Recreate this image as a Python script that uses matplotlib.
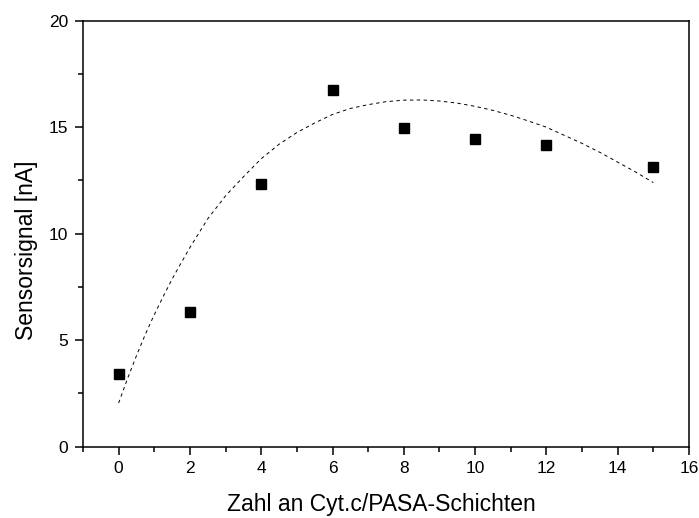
import matplotlib
matplotlib.use("Agg")
import matplotlib.pyplot as plt
from matplotlib.ticker import MultipleLocator

plt.rcParams['font.family'] = ['Liberation Sans', 'DejaVu Sans']

# measured data
layers = [0, 2, 4, 6, 8, 10, 12, 15]
signal = [3.41, 6.31, 12.35, 16.75, 14.95, 14.45, 14.15, 13.13]

# fitted curve
fit_x = [0, 0.25, 0.5, 0.75, 1.0, 1.25, 1.5, 1.75, 2.0, 2.5, 3.0, 3.5, 4.0, 4.5,
         5.0, 5.5, 6.0, 6.5, 7.0, 7.5, 8.0, 8.5, 9.0, 9.5, 10.0, 10.5, 11.0,
         11.5, 12.0, 12.5, 13.0, 13.5, 14.0, 14.5, 15.0]
fit_y = [2.05, 3.2, 4.27, 5.28, 6.2, 7.05, 7.87, 8.62, 9.35, 10.7, 11.78, 12.67,
         13.52, 14.2, 14.75, 15.2, 15.6, 15.88, 16.06, 16.2, 16.27, 16.28, 16.23,
         16.13, 15.98, 15.79, 15.56, 15.29, 15.0, 14.62, 14.24, 13.82, 13.36,
         12.9, 12.4]

fig = plt.figure(figsize=(6.99, 5.18), dpi=100)
ax = fig.add_axes([0.1187, 0.1376, 0.8670, 0.8224])

ax.plot(fit_x, fit_y, linestyle=(0, (3.5, 3.5)), color='black', linewidth=0.7)
ax.plot(layers, signal, linestyle='none', marker='s', markersize=6.5,
        color='black')

ax.set_xlim(-1, 16)
ax.set_ylim(0, 20)
ax.xaxis.set_major_locator(MultipleLocator(2))
ax.xaxis.set_minor_locator(MultipleLocator(1))
ax.yaxis.set_major_locator(MultipleLocator(5))
ax.yaxis.set_minor_locator(MultipleLocator(2.5))

for s in ax.spines.values():
    s.set_linewidth(1.1)
ax.tick_params(which='both', direction='out', top=False, right=False,
               width=1.1, labelsize=12.5)
ax.tick_params(which='major', length=5.5, pad=5)
ax.tick_params(which='minor', length=3.5)

ax.set_xlabel('Zahl an Cyt.c/PASA-Schichten', fontsize=16.5, labelpad=12)
ax.set_ylabel('Sensorsignal [nA]', fontsize=16.5, labelpad=8)
ax.xaxis.label.set_x(0.4917)
ax.yaxis.label.set_y(0.462)

fig.savefig('out.png', dpi=100)
